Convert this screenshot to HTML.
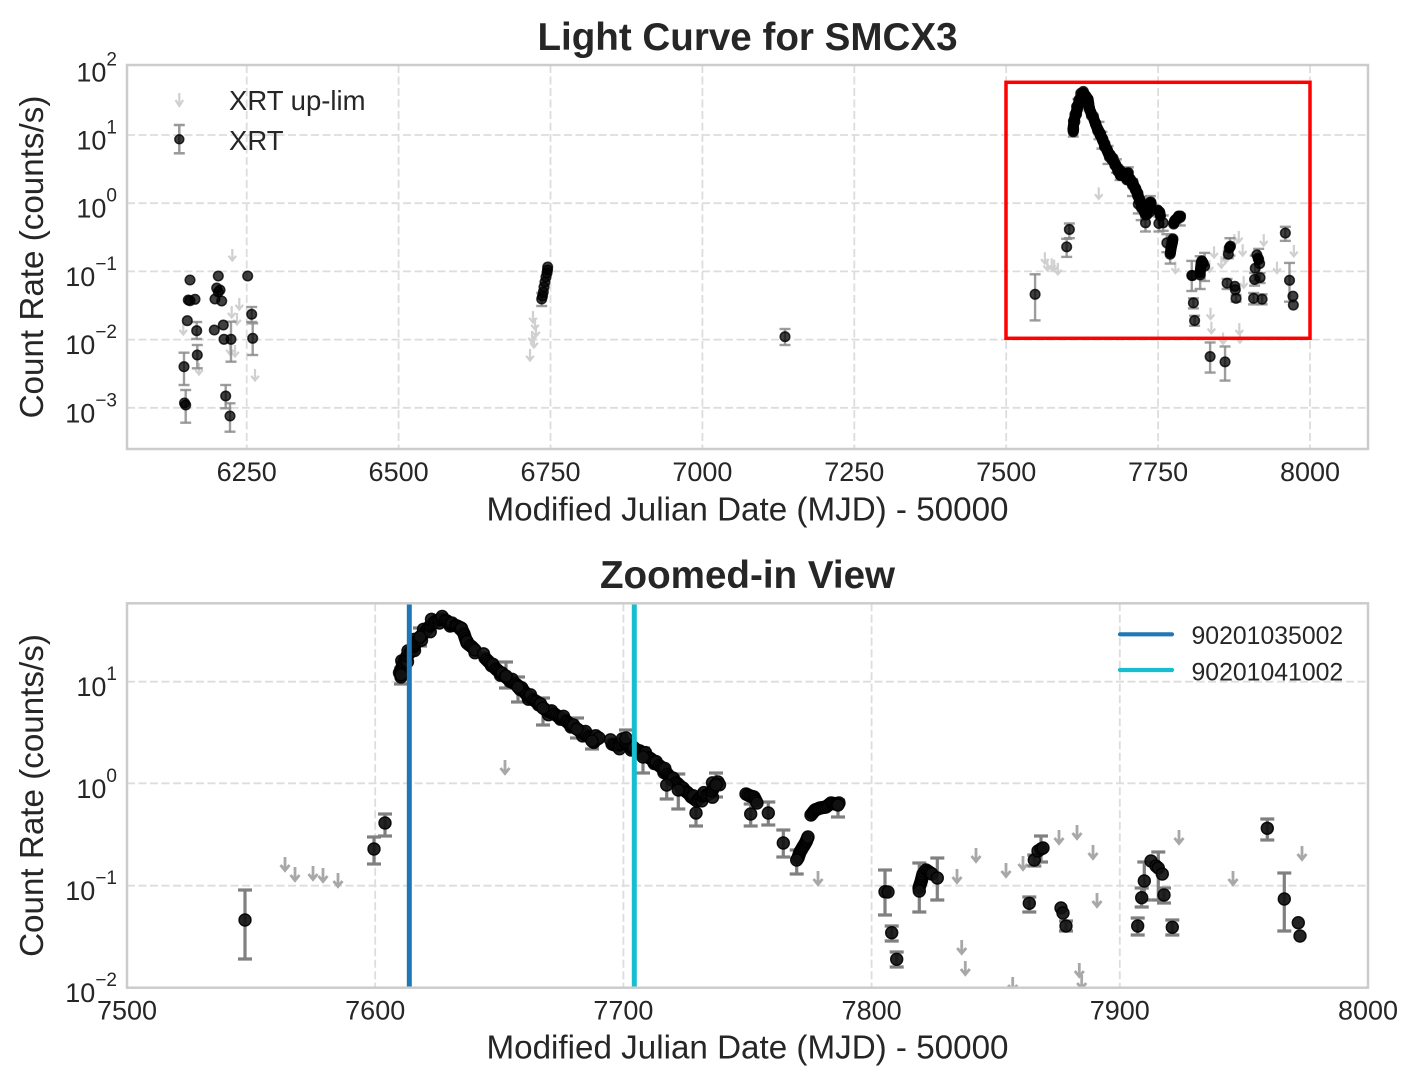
<!DOCTYPE html>
<html><head><meta charset="utf-8">
<style>
html,body{margin:0;padding:0;background:#fff;}
svg{display:block;font-family:"Liberation Sans",Arial,sans-serif;}
</style></head><body>
<svg id="s" width="1417" height="1086" viewBox="0 0 1417 1086" xmlns="http://www.w3.org/2000/svg">
<defs>
<clipPath id="c1"><rect x="127" y="65" width="1241" height="384"/></clipPath>
<clipPath id="c2"><rect x="127" y="603.3" width="1241" height="384.4"/></clipPath>
</defs>
<rect width="1417" height="1086" fill="#fff"/>

<!-- TOP grid -->
<g stroke="#dddddd" stroke-width="1.8" stroke-dasharray="8,3.5" fill="none">
<line x1="246.7" y1="65" x2="246.7" y2="449"/>
<line x1="398.6" y1="65" x2="398.6" y2="449"/>
<line x1="550.5" y1="65" x2="550.5" y2="449"/>
<line x1="702.4" y1="65" x2="702.4" y2="449"/>
<line x1="854.3" y1="65" x2="854.3" y2="449"/>
<line x1="1006.2" y1="65" x2="1006.2" y2="449"/>
<line x1="1158.1" y1="65" x2="1158.1" y2="449"/>
<line x1="1310" y1="65" x2="1310" y2="449"/>
<line x1="127" y1="135" x2="1368" y2="135"/>
<line x1="127" y1="203.2" x2="1368" y2="203.2"/>
<line x1="127" y1="271.4" x2="1368" y2="271.4"/>
<line x1="127" y1="339.6" x2="1368" y2="339.6"/>
<line x1="127" y1="407.8" x2="1368" y2="407.8"/>
</g>

<!-- BOTTOM grid -->
<g stroke="#dddddd" stroke-width="1.8" stroke-dasharray="8,3.5" fill="none">
<line x1="375.2" y1="603.3" x2="375.2" y2="987.7"/>
<line x1="623.4" y1="603.3" x2="623.4" y2="987.7"/>
<line x1="871.6" y1="603.3" x2="871.6" y2="987.7"/>
<line x1="1119.8" y1="603.3" x2="1119.8" y2="987.7"/>
<line x1="127" y1="681.7" x2="1368" y2="681.7"/>
<line x1="127" y1="783.3" x2="1368" y2="783.3"/>
<line x1="127" y1="885.7" x2="1368" y2="885.7"/>
</g>

<g id="dataT" clip-path="url(#c1)"><g id="tArr"></g><g id="tErr"></g><g id="tPts"></g></g>
<g id="dataB" clip-path="url(#c2)"><g id="bArr"></g><g id="bErr"></g><g id="bPts"></g>
<line x1="409.3" y1="603.3" x2="409.3" y2="987.7" stroke="#1f77b4" stroke-width="5"/>
<line x1="634.3" y1="603.3" x2="634.3" y2="987.7" stroke="#17becf" stroke-width="5"/>
</g>

<!-- red zoom box -->
<rect x="1006" y="82.3" width="304" height="256" fill="none" stroke="#ff0000" stroke-width="3.5"/>

<!-- spines -->
<rect x="127" y="65" width="1241" height="384" fill="none" stroke="#cccccc" stroke-width="2.5"/>
<rect x="127" y="603.3" width="1241" height="384.4" fill="none" stroke="#cccccc" stroke-width="2.5"/>

<!-- TOP texts -->
<g fill="#262626">
<text x="747.5" y="50" text-anchor="middle" font-size="38.6" font-weight="bold">Light Curve for SMCX3</text>
<g font-size="27" text-anchor="middle">
<text x="246.7" y="481">6250</text>
<text x="398.6" y="481">6500</text>
<text x="550.5" y="481">6750</text>
<text x="702.4" y="481">7000</text>
<text x="854.3" y="481">7250</text>
<text x="1006.2" y="481">7500</text>
<text x="1158.1" y="481">7750</text>
<text x="1310" y="481">8000</text>
</g>
<text x="747.5" y="520.5" text-anchor="middle" font-size="33.2">Modified Julian Date (MJD) - 50000</text>
<text transform="translate(43,257) rotate(-90)" text-anchor="middle" font-size="33.2">Count Rate (counts/s)</text>
<g font-size="27" text-anchor="end">
<text x="117" y="81.3">10<tspan dy="-16" font-size="19">2</tspan></text>
<text x="117" y="149.5">10<tspan dy="-16" font-size="19">1</tspan></text>
<text x="117" y="217.7">10<tspan dy="-16" font-size="19">0</tspan></text>
<text x="117" y="285.9">10<tspan dy="-16" font-size="19">−1</tspan></text>
<text x="117" y="354.1">10<tspan dy="-16" font-size="19">−2</tspan></text>
<text x="117" y="422.3">10<tspan dy="-16" font-size="19">−3</tspan></text>
</g>
<text x="229" y="110" font-size="27.5">XRT up-lim</text>
<text x="229" y="150" font-size="27.5">XRT</text>
</g>

<!-- top legend handles -->
<g>
<path d="M179.3,93V105M175.5,100L179.3,106L183.1,100" stroke="#d0d0d0" stroke-width="2.2" fill="none"/>
<line x1="179.3" y1="125" x2="179.3" y2="153.3" stroke="#999" stroke-width="2.5"/>
<line x1="173.8" y1="125" x2="184.8" y2="125" stroke="#999" stroke-width="2.5"/>
<line x1="173.8" y1="153.3" x2="184.8" y2="153.3" stroke="#999" stroke-width="2.5"/>
<circle cx="179.3" cy="139.3" r="4.5" fill="#000" fill-opacity="0.75" stroke="#000" stroke-opacity="0.8" stroke-width="1.5"/>
</g>

<!-- BOTTOM texts -->
<g fill="#262626">
<text x="747.5" y="588" text-anchor="middle" font-size="38.6" font-weight="bold">Zoomed-in View</text>
<g font-size="27" text-anchor="middle">
<text x="127" y="1019.3">7500</text>
<text x="375.2" y="1019.3">7600</text>
<text x="623.4" y="1019.3">7700</text>
<text x="871.6" y="1019.3">7800</text>
<text x="1119.8" y="1019.3">7900</text>
<text x="1368" y="1019.3">8000</text>
</g>
<text x="747.5" y="1058.5" text-anchor="middle" font-size="33.2">Modified Julian Date (MJD) - 50000</text>
<text transform="translate(43,795.5) rotate(-90)" text-anchor="middle" font-size="33.2">Count Rate (counts/s)</text>
<g font-size="27" text-anchor="end">
<text x="117" y="696.2">10<tspan dy="-16" font-size="19">1</tspan></text>
<text x="117" y="797.8">10<tspan dy="-16" font-size="19">0</tspan></text>
<text x="117" y="900.2">10<tspan dy="-16" font-size="19">−1</tspan></text>
<text x="117" y="1002.2">10<tspan dy="-16" font-size="19">−2</tspan></text>
</g>
<line x1="1120" y1="634.3" x2="1172" y2="634.3" stroke="#1f77b4" stroke-width="4.2" stroke-linecap="round"/>
<line x1="1120" y1="670" x2="1172" y2="670" stroke="#17becf" stroke-width="4.2" stroke-linecap="round"/>
<text x="1191.5" y="644" font-size="24.8">90201035002</text>
<text x="1191.5" y="680.5" font-size="24.8">90201041002</text>
</g>
</svg>
<script>
(function(){
const NS="http://www.w3.org/2000/svg";
function el(p,t,a){const e=document.createElementNS(NS,t);for(const k in a)e.setAttribute(k,a[k]);p.appendChild(e);return e;}
const $=id=>document.getElementById(id);
const tx=x=>1006.2+(x-127)*0.2448, ty=y=>339.6-(987.7-y)*0.6686;

const curves=[
[[401,677],[401,670],[404,662],[407,656],[412,650],[416,643],[420,637],[425,632],[430,626],[436,621],[442,619],[447,621],[452,625],[457,626],[461,628],[464,634],[467,643],[472,647],[475,650]],
[[485,658],[490,663],[496,669],[502,674],[507,678],[512,682],[517,685],[522,689],[527,695],[532,699],[537,702],[542,707],[547,711],[553,713],[559,717],[565,720],[571,725],[577,729],[583,733],[589,737],[594,741],[599,738]],
[[612,744],[618,746],[624,742],[628,745],[633,749],[640,751],[645,755],[651,759],[656,763],[661,767],[665,771],[669,776],[673,780],[678,784],[683,789],[688,793],[693,798],[697,801],[702,796],[707,795],[711,793],[714,787],[718,782]],
[[746,794],[750,796],[754,797],[757,803]],
[[798,858],[800,852],[803,847],[806,842],[808,837]],
[[811,815],[815,810],[820,808],[826,807],[831,803],[836,804],[839,803]],
[[919,888],[921,882],[923,874],[926,870],[929,872],[932,874]]
];
function sample(c,step){const out=[];for(let i=0;i<c.length-1;i++){const a=c[i],b=c[i+1];const d=Math.hypot(b[0]-a[0],b[1]-a[1]);const n=Math.max(1,Math.ceil(d/step));for(let j=0;j<n;j++){const t=j/n;out.push([a[0]+(b[0]-a[0])*t,a[1]+(b[1]-a[1])*t]);}}out.push(c[c.length-1]);return out;}
const pts=[];
curves.forEach((c,ci)=>{
  const s=sample(c,2.5);
  s.forEach((p,i)=>{
    pts.push(p);
    if(ci<3 && i%3===0){
      const j=((i*7)%5)-2;
      pts.push([p[0]+(i%2?1.5:-1.5),p[1]+(i%2?3.2:-3.2)+j*0.5]);
    }
  });
});
[
[245,920,890,959],[374,849,837,864],[385,823,814,836],[401,675,668,684],[420,637,628,646],[506,676,662,688],[518,687,677,702],[543,708,698,725],[577,729,718,738],[592,741,731,749],
[626,738,730,748],[643,757,748,773],[666.7,785,773,799],[678.3,790,774,809],[696,813,802,826],[716,785,773,797],
[750.7,814,804,826],[768.3,813,802,825],[783.3,843,830,857],[796.7,860,850,874],[838,805,800,817],
[885,891.7,870,915],[888,892],[891.7,932.7,926,941],[896.7,959.3,952,967],[919.3,891,863,912],[937.3,878,858,900],
[1029.3,903.3,897,912],[1034.3,860,855,866],[1038,851],[1041,849,836,862],[1043,848],[1061,908],[1063,913],[1066,926,921,931],
[1137.7,926,918,935],[1141.7,897.7,888,907],[1144.3,881,862,900],[1151,861],[1156,866],[1158.3,868,852,900],[1162.3,874],[1164,895,888,903],[1172.3,927.3,920,935],
[1267.3,828.3,819,840],[1284.3,899,873,931],[1298.3,922.7],[1300,936],
[960,1013,992,1037],[1021,1021,998,1049]
].forEach(p=>pts.push(p));
const arrows=[[285,857],[295,867],[313,866],[323,868],[338,873],[505,760],[818,871],[957,869],[976,848],[1006,863],[1023,856],[1059,830],[1077,825],[1093,845],[1097,893],[961.7,940],[965.3,961],[1012.7,977],[1079.3,963],[1081.7,975],[1179,830],[1233,871],[1302,846]];

function errbar(g,x,y1,y2,cap,w,col,op){
 const a={stroke:col,'stroke-width':w,'stroke-opacity':op};
 el(g,'line',Object.assign({x1:x,y1:y1,x2:x,y2:y2},a));
 el(g,'line',Object.assign({x1:x-cap,y1:y1,x2:x+cap,y2:y1},a));
 el(g,'line',Object.assign({x1:x-cap,y1:y2,x2:x+cap,y2:y2},a));
}
function arrow(g,x,y,s,col,w){
 el(g,'path',{d:'M'+x+','+y+'V'+(y+13*s)+'M'+(x-4.5*s)+','+(y+8*s)+'L'+x+','+(y+13.5*s)+'L'+(x+4.5*s)+','+(y+8*s),stroke:col,'stroke-width':w,fill:'none'});
}
// bottom
const bA=$('bArr'),bE=$('bErr'),bP=$('bPts');
arrows.forEach(a=>arrow(bA,a[0],a[1],1,'#a8a8a8',2.8));
pts.forEach(p=>{if(p.length>2)errbar(bE,p[0],p[2],p[3],7,3.2,'#808080',1);});
pts.forEach(p=>el(bP,'circle',{cx:p[0],cy:p[1],r:6,fill:'#111','fill-opacity':0.92,stroke:'#000','stroke-opacity':0.9,'stroke-width':1.4}));
// top
const tA=$('tArr'),tE=$('tErr'),tP=$('tPts');
const topArrows=[[232.3,249],[239.3,298],[183.3,323],[199,363],[255,369],[230,343],[235,345],[237,313],[231.7,306],[533,311],[535,318],[536,325],[532,331],[534,336],[530,349]];
topArrows.forEach(a=>arrow(tA,a[0],a[1],0.85,'#d0d0d0',2.2));
arrows.forEach(a=>arrow(tA,tx(a[0]),ty(a[1]),0.85,'#d0d0d0',2.2));
const topPts=[
[190,280],[218.3,276],[247.7,276],[216.7,288],[218.3,292],[220,290],[188.3,300],[190,300.7],[195,299.3],[215,299],[221.7,301],[251.7,314.3,307,322],[187.3,320.7],[196.7,330.7,322,339],[214.3,330],[223.3,325],[224,339.3],[231,339.3,321.7,361.7],[252.7,338.3,323.3,355],[197.3,355,345,368.3],[184,366.7,352.7,385],[185.7,405,390,422.7],[184.5,403],[225.7,396,385,408.3],[230,416,403.3,431.7],
[547.7,267],[547.5,270],[547,273],[546,277],[545,282],[544,287],[543.3,292],[542.5,296],[541.7,299,293,306],
[785,336.7,329,345]
];
const allTop=topPts.concat(pts.map(p=>p.length>2?[tx(p[0]),ty(p[1]),ty(p[2]),ty(p[3])]:[tx(p[0]),ty(p[1])]));
allTop.forEach(p=>{if(p.length>2)errbar(tE,p[0],p[2],p[3],5.5,2.4,'#8c8c8c',0.85);});
allTop.forEach(p=>el(tP,'circle',{cx:p[0],cy:p[1],r:4.8,fill:'#000','fill-opacity':0.75,stroke:'#000','stroke-opacity':0.8,'stroke-width':1.5}));
})();
</script>
</body></html>
